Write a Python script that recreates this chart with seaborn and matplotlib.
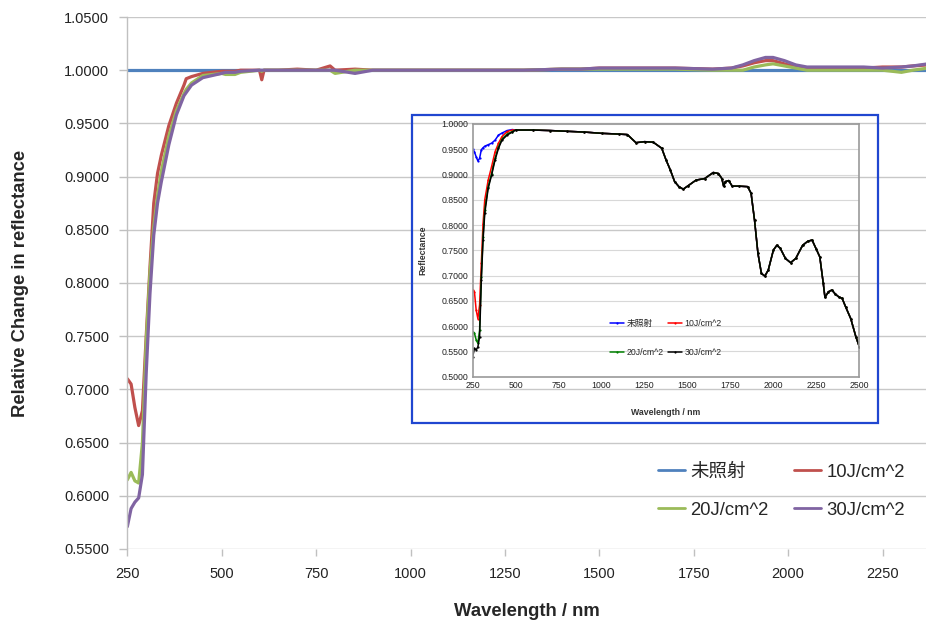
import matplotlib
matplotlib.use("Agg")
import matplotlib.pyplot as plt
import seaborn as sns
import pandas as pd
from matplotlib.patches import Rectangle

# ---------------- main chart data (relative change) ----------------
main_wl = [250, 260, 270, 280, 290, 300, 310, 320, 330, 340, 360, 380, 400, 406, 420, 450,
           500, 510, 535, 550, 600, 606, 612, 650, 700, 750, 787, 800, 853, 900, 1000,
           1100, 1200, 1300, 1400, 1450, 1500, 1600, 1700, 1800, 1850, 1880, 1910, 1940,
           1960, 1990, 2020, 2050, 2100, 2150, 2200, 2250, 2300, 2330, 2370]
rel_unirr = [1.0] * len(main_wl)
rel_10 = [0.710, 0.705, 0.683, 0.666, 0.680, 0.750, 0.815, 0.875, 0.903, 0.920, 0.948,
          0.969, 0.986, 0.992, 0.994, 0.997, 0.999, 0.999, 0.999, 1.000, 1.000, 0.991,
          1.000, 1.000, 1.001, 1.000, 1.004, 1.000, 1.001, 1.000, 1.000, 1.000, 1.000,
          1.000, 1.001, 1.001, 1.002, 1.002, 1.002, 1.001, 1.002, 1.004, 1.007, 1.009,
          1.009, 1.006, 1.003, 1.002, 1.002, 1.002, 1.002, 1.003, 1.003, 1.004, 1.005]
rel_20 = [0.615, 0.622, 0.614, 0.612, 0.650, 0.745, 0.810, 0.853, 0.882, 0.905, 0.938,
          0.962, 0.978, 0.982, 0.988, 0.995, 0.997, 0.996, 0.996, 0.998, 1.000, 0.999,
          1.000, 1.000, 1.000, 1.000, 1.000, 0.997, 1.000, 1.000, 1.000, 1.000, 1.000,
          1.000, 1.001, 1.001, 1.001, 1.001, 1.001, 1.000, 1.000, 1.000, 1.003, 1.005,
          1.006, 1.004, 1.002, 1.000, 1.000, 1.000, 1.000, 1.000, 0.998, 1.000, 1.002]
rel_30 = [0.571, 0.588, 0.594, 0.598, 0.620, 0.715, 0.790, 0.845, 0.875, 0.895, 0.930,
          0.958, 0.976, 0.979, 0.986, 0.993, 0.997, 0.998, 0.998, 0.999, 1.000, 1.000,
          1.000, 1.000, 1.000, 1.000, 1.000, 1.000, 0.997, 1.000, 1.000, 1.000, 1.000,
          1.000, 1.001, 1.001, 1.002, 1.002, 1.002, 1.001, 1.002, 1.005, 1.009, 1.012,
          1.012, 1.009, 1.005, 1.003, 1.003, 1.003, 1.003, 1.002, 1.003, 1.004, 1.006]
series_names = ["未照射", "10J/cm^2", "20J/cm^2", "30J/cm^2"]
main_colors = ["#4F81BD", "#C0504D", "#9BBB59", "#8064A2"]
main_yticks = [0.55, 0.60, 0.65, 0.70, 0.75, 0.80, 0.85, 0.90, 0.95, 1.00, 1.05]
main_xticks = [250, 500, 750, 1000, 1250, 1500, 1750, 2000, 2250]

# ---------------- inset data (reflectance) ----------------
inset_wl_head = [250, 260, 270, 280, 290, 300, 310, 320, 340, 360, 380, 400, 420, 450, 480]
refl_unirr_head = [0.950, 0.945, 0.935, 0.927, 0.932, 0.949, 0.953, 0.956, 0.959, 0.962,
                   0.968, 0.978, 0.982, 0.987, 0.989]
refl_10_head = [0.672, 0.668, 0.632, 0.615, 0.642, 0.724, 0.803, 0.850, 0.889, 0.916,
                0.945, 0.962, 0.975, 0.985, 0.988]
refl_20_head = [0.589, 0.586, 0.573, 0.566, 0.592, 0.698, 0.777, 0.830, 0.876, 0.902,
                0.932, 0.955, 0.970, 0.980, 0.985]
refl_30_head = [0.540, 0.556, 0.553, 0.559, 0.579, 0.691, 0.770, 0.823, 0.873, 0.899,
                0.929, 0.952, 0.968, 0.978, 0.984]
inset_wl_tail = [500, 600, 700, 800, 900, 1000, 1100, 1150, 1200, 1250, 1300, 1350, 1375,
                 1400, 1425, 1450, 1475, 1500, 1550, 1600, 1650, 1680, 1700, 1710, 1720,
                 1740, 1760, 1800, 1850, 1870, 1890, 1910, 1930, 1950, 1970, 2000, 2020,
                 2040, 2070, 2100, 2130, 2170, 2200, 2225, 2250, 2270, 2290, 2300, 2320,
                 2340, 2360, 2380, 2400, 2420, 2450, 2480, 2500]
refl_tail = [0.988, 0.988, 0.987, 0.9855, 0.984, 0.9815, 0.980, 0.979, 0.963, 0.965,
             0.964, 0.952, 0.929, 0.909, 0.886, 0.876, 0.871, 0.877, 0.889, 0.892, 0.904,
             0.902, 0.892, 0.877, 0.886, 0.888, 0.877, 0.877, 0.876, 0.863, 0.810, 0.744,
             0.7045, 0.699, 0.711, 0.7507, 0.760, 0.754, 0.734, 0.7256, 0.734, 0.760,
             0.768, 0.7704, 0.752, 0.737, 0.685, 0.657, 0.668, 0.6715, 0.6636, 0.658,
             0.655, 0.6385, 0.615, 0.579, 0.5594]
inset_colors = ["#0000FF", "#FF0000", "#008000", "#000000"]
inset_yticks = [0.50, 0.55, 0.60, 0.65, 0.70, 0.75, 0.80, 0.85, 0.90, 0.95, 1.00]
inset_xticks = [250, 500, 750, 1000, 1250, 1500, 1750, 2000, 2250, 2500]

# ---------------- styling ----------------
sns.set_theme(style="white")
plt.rcParams["font.family"] = ["Liberation Sans", "Noto Sans CJK JP", "DejaVu Sans"]

fig = plt.figure(figsize=(9.26, 6.23), dpi=100)
ax = fig.add_axes([0.1375, 0.1188, 0.8625, 0.8539])

main_df = pd.DataFrame({
    "wl": main_wl * 4,
    "val": rel_unirr + rel_10 + rel_20 + rel_30,
    "series": sum([[n] * len(main_wl) for n in series_names], []),
})
sns.lineplot(data=main_df, x="wl", y="val", hue="series", hue_order=series_names,
             palette=main_colors, linewidth=2.3, ax=ax, legend=True, sort=False)

ax.set_xlim(250, 2365)
ax.set_ylim(0.55, 1.05)
ax.set_yticks(main_yticks)
ax.set_yticklabels([f"{v:.4f}" for v in main_yticks], fontsize=10.5, color="#222222")
ax.set_xticks(main_xticks)
ax.set_xticklabels([str(v) for v in main_xticks], fontsize=10.5, color="#222222")
ax.grid(axis="y", color="#C8C8C8", linewidth=1.0)
ax.grid(axis="x", visible=False)
ax.set_axisbelow(True)
for s in ["top", "right", "bottom"]:
    ax.spines[s].set_visible(False)
ax.spines["left"].set_color("#C0C0C0")
ax.spines["left"].set_linewidth(1.0)
ax.tick_params(axis="y", which="major", length=6, color="#C0C0C0", width=1.0,
               direction="out", pad=7, left=True)
ax.tick_params(axis="x", which="major", length=5, color="#C0C0C0", width=1.0,
               direction="out", pad=8, bottom=True)
ax.set_xlabel("Wavelength / nm", fontsize=13.3, fontweight="bold", labelpad=16)
ax.set_ylabel("Relative Change in reflectance", fontsize=13.3, fontweight="bold",
              labelpad=25)

handles, labels = ax.get_legend_handles_labels()
order = [0, 2, 1, 3]
leg = ax.legend([handles[i] for i in order], [labels[i] for i in order], loc="center",
                bbox_to_anchor=(0.819, 0.109), ncol=2, frameon=False, fontsize=13.3,
                handlelength=1.46, handletextpad=0.27, columnspacing=1.4,
                labelspacing=1.15)
for ln in leg.get_lines():
    ln.set_linewidth(2.0)

# blue frame around inset
fig.patches.append(Rectangle((0.4446, 0.3205), 0.5039, 0.4949, transform=fig.transFigure,
                             fill=False, edgecolor="#2046D0", linewidth=1.6, zorder=5))

# ---------------- inset ----------------
iax = fig.add_axes([0.5105, 0.3953, 0.4175, 0.4057])
iax.set_facecolor("none")
inset_heads = [refl_unirr_head, refl_10_head, refl_20_head, refl_30_head]
inset_df = pd.DataFrame({
    "wl": sum([inset_wl_head + inset_wl_tail for _ in series_names], []),
    "val": sum([h + refl_tail for h in inset_heads], []),
    "series": sum([[n] * (len(inset_wl_head) + len(inset_wl_tail)) for n in series_names], []),
})
sns.lineplot(data=inset_df, x="wl", y="val", hue="series", hue_order=series_names,
             palette=inset_colors, linewidth=1.1, ax=iax, legend=True, sort=False,
             marker="o", markersize=1.6, markeredgewidth=0)
iax.set_xlim(250, 2500)
iax.set_ylim(0.5, 1.0)
iax.set_xticks(inset_xticks)
iax.set_xticklabels([str(v) for v in inset_xticks], fontsize=6.3, color="#222222")
iax.set_yticks(inset_yticks)
iax.set_yticklabels([f"{v:.4f}" for v in inset_yticks], fontsize=6.3, color="#222222")
iax.grid(axis="y", color="#D8D8D8", linewidth=0.8)
iax.grid(axis="x", visible=False)
for s in iax.spines.values():
    s.set_color("#9A9A9A")
    s.set_linewidth(1.2)
iax.tick_params(axis="both", length=0, pad=3)
iax.set_xlabel("Wavelength / nm", fontsize=6.3, fontweight="bold", color="#333333",
               labelpad=13)
iax.set_ylabel("Reflectance", fontsize=6.3, fontweight="bold", color="#333333", labelpad=10)
ih, il = iax.get_legend_handles_labels()
iax.legend([ih[i] for i in order], [il[i] for i in order], loc="center",
           bbox_to_anchor=(0.5, 0.153), ncol=2, frameon=False,
           fontsize=6.3, handlelength=1.6, handletextpad=0.3, columnspacing=0.45,
           labelspacing=2.2)

fig.savefig("out.png", dpi=100)
